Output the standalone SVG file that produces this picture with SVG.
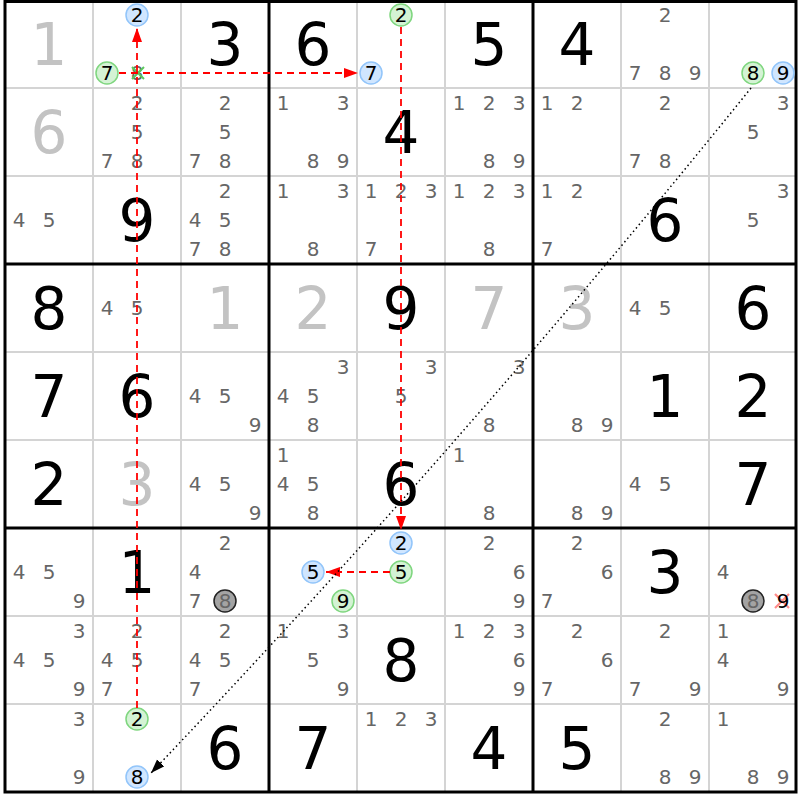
<svg xmlns="http://www.w3.org/2000/svg" width="800" height="800" viewBox="0 0 800 800">
<style>
text{font-family:"DejaVu Sans",Verdana,sans-serif;text-anchor:middle}
.g{font-size:58px;fill:#000}
.s{font-size:58px;fill:#c3c3c3}
.c{font-size:20px;fill:#666}
.k{font-size:20px;fill:#000}
.cb{fill:#d0e6ff;stroke:#92c5fa;stroke-width:1.5}
.cg{fill:#d4f3d4;stroke:#7fd67f;stroke-width:1.5}
.cx{fill:#a3a3a3;stroke:#222;stroke-width:1.5}
.thin{stroke:#d4d4d4;stroke-width:2}
.thick{stroke:#000;stroke-width:3;fill:none}
.red{stroke:#f00;stroke-width:1.8;stroke-dasharray:7 5;fill:none}
.dot{stroke:#000;stroke-width:1.5;stroke-dasharray:1.5 3;fill:none}
</style>
<defs>
<marker id="ar" markerUnits="userSpaceOnUse" markerWidth="15" markerHeight="11" refX="14" refY="5" orient="auto"><path d="M0,0 L14,5 L0,10 z" fill="#f00"/></marker>
<marker id="ab" markerUnits="userSpaceOnUse" markerWidth="15" markerHeight="11" refX="14" refY="5" orient="auto"><path d="M0,0 L14,5 L0,10 z" fill="#000"/></marker>
</defs>
<rect width="800" height="800" fill="#fff"/>
<g id="grid">
<path class="thin" d="M93,0V792M181,0V792M357,0V792M445,0V792M621,0V792M709,0V792M5,88H796M5,176H796M5,352H796M5,440H796M5,616H796M5,704H796"/>
<path class="thick" d="M269,0V792M533,0V792M5,264H796M5,528H796"/>
<rect class="thick" x="5" y="1.5" width="791" height="790.5" stroke-width="3.5"/>
</g>
<g id="r0">
<g id="c00"><text class="s" x="49" y="65">1</text></g>
<g id="c01"><circle class="cb" cx="137" cy="15" r="11"/><text class="k" x="137" y="22">2</text><circle class="cg" cx="107" cy="73" r="11"/><text class="k" x="107" y="80">7</text><text class="c" x="137" y="80">8</text><path d="M132,67L144,79M144,67L132,79" stroke="#5cc85c" stroke-width="2"/></g>
<g id="c02"><text class="g" x="225" y="65">3</text></g>
<g id="c03"><text class="g" x="313" y="65">6</text></g>
<g id="c04"><circle class="cg" cx="401" cy="15" r="11"/><text class="k" x="401" y="22">2</text><circle class="cb" cx="371" cy="73" r="11"/><text class="k" x="371" y="80">7</text></g>
<g id="c05"><text class="g" x="489" y="65">5</text></g>
<g id="c06"><text class="g" x="577" y="65">4</text></g>
<g id="c07"><text class="c" x="665" y="22">2</text><text class="c" x="635" y="80">7</text><text class="c" x="665" y="80">8</text><text class="c" x="695" y="80">9</text></g>
<g id="c08"><circle class="cg" cx="753" cy="73" r="11"/><text class="k" x="753" y="80">8</text><circle class="cb" cx="783" cy="73" r="11"/><text class="k" x="783" y="80">9</text></g>
</g>
<g id="r1">
<g id="c10"><text class="s" x="49" y="153">6</text></g>
<g id="c11"><text class="c" x="137" y="110">2</text><text class="c" x="137" y="139">5</text><text class="c" x="107" y="168">7</text><text class="c" x="137" y="168">8</text></g>
<g id="c12"><text class="c" x="225" y="110">2</text><text class="c" x="225" y="139">5</text><text class="c" x="195" y="168">7</text><text class="c" x="225" y="168">8</text></g>
<g id="c13"><text class="c" x="283" y="110">1</text><text class="c" x="343" y="110">3</text><text class="c" x="313" y="168">8</text><text class="c" x="343" y="168">9</text></g>
<g id="c14"><text class="g" x="401" y="153">4</text></g>
<g id="c15"><text class="c" x="459" y="110">1</text><text class="c" x="489" y="110">2</text><text class="c" x="519" y="110">3</text><text class="c" x="489" y="168">8</text><text class="c" x="519" y="168">9</text></g>
<g id="c16"><text class="c" x="547" y="110">1</text><text class="c" x="577" y="110">2</text></g>
<g id="c17"><text class="c" x="665" y="110">2</text><text class="c" x="635" y="168">7</text><text class="c" x="665" y="168">8</text></g>
<g id="c18"><text class="c" x="783" y="110">3</text><text class="c" x="753" y="139">5</text></g>
</g>
<g id="r2">
<g id="c20"><text class="c" x="19" y="227">4</text><text class="c" x="49" y="227">5</text></g>
<g id="c21"><text class="g" x="137" y="241">9</text></g>
<g id="c22"><text class="c" x="225" y="198">2</text><text class="c" x="195" y="227">4</text><text class="c" x="225" y="227">5</text><text class="c" x="195" y="256">7</text><text class="c" x="225" y="256">8</text></g>
<g id="c23"><text class="c" x="283" y="198">1</text><text class="c" x="343" y="198">3</text><text class="c" x="313" y="256">8</text></g>
<g id="c24"><text class="c" x="371" y="198">1</text><text class="c" x="401" y="198">2</text><text class="c" x="431" y="198">3</text><text class="c" x="371" y="256">7</text></g>
<g id="c25"><text class="c" x="459" y="198">1</text><text class="c" x="489" y="198">2</text><text class="c" x="519" y="198">3</text><text class="c" x="489" y="256">8</text></g>
<g id="c26"><text class="c" x="547" y="198">1</text><text class="c" x="577" y="198">2</text><text class="c" x="547" y="256">7</text></g>
<g id="c27"><text class="g" x="665" y="241">6</text></g>
<g id="c28"><text class="c" x="783" y="198">3</text><text class="c" x="753" y="227">5</text></g>
</g>
<g id="r3">
<g id="c30"><text class="g" x="49" y="329">8</text></g>
<g id="c31"><text class="c" x="107" y="315">4</text><text class="c" x="137" y="315">5</text></g>
<g id="c32"><text class="s" x="225" y="329">1</text></g>
<g id="c33"><text class="s" x="313" y="329">2</text></g>
<g id="c34"><text class="g" x="401" y="329">9</text></g>
<g id="c35"><text class="s" x="489" y="329">7</text></g>
<g id="c36"><text class="s" x="577" y="329">3</text></g>
<g id="c37"><text class="c" x="635" y="315">4</text><text class="c" x="665" y="315">5</text></g>
<g id="c38"><text class="g" x="753" y="329">6</text></g>
</g>
<g id="r4">
<g id="c40"><text class="g" x="49" y="417">7</text></g>
<g id="c41"><text class="g" x="137" y="417">6</text></g>
<g id="c42"><text class="c" x="195" y="403">4</text><text class="c" x="225" y="403">5</text><text class="c" x="255" y="432">9</text></g>
<g id="c43"><text class="c" x="343" y="374">3</text><text class="c" x="283" y="403">4</text><text class="c" x="313" y="403">5</text><text class="c" x="313" y="432">8</text></g>
<g id="c44"><text class="c" x="431" y="374">3</text><text class="c" x="401" y="403">5</text></g>
<g id="c45"><text class="c" x="519" y="374">3</text><text class="c" x="489" y="432">8</text></g>
<g id="c46"><text class="c" x="577" y="432">8</text><text class="c" x="607" y="432">9</text></g>
<g id="c47"><text class="g" x="665" y="417">1</text></g>
<g id="c48"><text class="g" x="753" y="417">2</text></g>
</g>
<g id="r5">
<g id="c50"><text class="g" x="49" y="505">2</text></g>
<g id="c51"><text class="s" x="137" y="505">3</text></g>
<g id="c52"><text class="c" x="195" y="491">4</text><text class="c" x="225" y="491">5</text><text class="c" x="255" y="520">9</text></g>
<g id="c53"><text class="c" x="283" y="462">1</text><text class="c" x="283" y="491">4</text><text class="c" x="313" y="491">5</text><text class="c" x="313" y="520">8</text></g>
<g id="c54"><text class="g" x="401" y="505">6</text></g>
<g id="c55"><text class="c" x="459" y="462">1</text><text class="c" x="489" y="520">8</text></g>
<g id="c56"><text class="c" x="577" y="520">8</text><text class="c" x="607" y="520">9</text></g>
<g id="c57"><text class="c" x="635" y="491">4</text><text class="c" x="665" y="491">5</text></g>
<g id="c58"><text class="g" x="753" y="505">7</text></g>
</g>
<g id="r6">
<g id="c60"><text class="c" x="19" y="579">4</text><text class="c" x="49" y="579">5</text><text class="c" x="79" y="608">9</text></g>
<g id="c61"><text class="g" x="137" y="593">1</text></g>
<g id="c62"><text class="c" x="225" y="550">2</text><text class="c" x="195" y="579">4</text><text class="c" x="195" y="608">7</text><circle class="cx" cx="225" cy="601" r="11"/><text class="c" x="225" y="608">8</text></g>
<g id="c63"><circle class="cb" cx="313" cy="572" r="11"/><text class="k" x="313" y="579">5</text><circle class="cg" cx="343" cy="601" r="11"/><text class="k" x="343" y="608">9</text></g>
<g id="c64"><circle class="cb" cx="401" cy="543" r="11"/><text class="k" x="401" y="550">2</text><circle class="cg" cx="401" cy="572" r="11"/><text class="k" x="401" y="579">5</text></g>
<g id="c65"><text class="c" x="489" y="550">2</text><text class="c" x="519" y="579">6</text><text class="c" x="519" y="608">9</text></g>
<g id="c66"><text class="c" x="577" y="550">2</text><text class="c" x="607" y="579">6</text><text class="c" x="547" y="608">7</text></g>
<g id="c67"><text class="g" x="665" y="593">3</text></g>
<g id="c68"><text class="c" x="723" y="579">4</text><circle class="cx" cx="753" cy="601" r="11"/><text class="c" x="753" y="608">8</text><path d="M775,594L789,608M789,594L775,608" stroke="#ff8a8a" stroke-width="2.2"/><text class="k" x="783" y="608">9</text></g>
</g>
<g id="r7">
<g id="c70"><text class="c" x="79" y="638">3</text><text class="c" x="19" y="667">4</text><text class="c" x="49" y="667">5</text><text class="c" x="79" y="696">9</text></g>
<g id="c71"><text class="c" x="137" y="638">2</text><text class="c" x="107" y="667">4</text><text class="c" x="137" y="667">5</text><text class="c" x="107" y="696">7</text></g>
<g id="c72"><text class="c" x="225" y="638">2</text><text class="c" x="195" y="667">4</text><text class="c" x="225" y="667">5</text><text class="c" x="195" y="696">7</text></g>
<g id="c73"><text class="c" x="283" y="638">1</text><text class="c" x="343" y="638">3</text><text class="c" x="313" y="667">5</text><text class="c" x="343" y="696">9</text></g>
<g id="c74"><text class="g" x="401" y="681">8</text></g>
<g id="c75"><text class="c" x="459" y="638">1</text><text class="c" x="489" y="638">2</text><text class="c" x="519" y="638">3</text><text class="c" x="519" y="667">6</text><text class="c" x="519" y="696">9</text></g>
<g id="c76"><text class="c" x="577" y="638">2</text><text class="c" x="607" y="667">6</text><text class="c" x="547" y="696">7</text></g>
<g id="c77"><text class="c" x="665" y="638">2</text><text class="c" x="635" y="696">7</text><text class="c" x="695" y="696">9</text></g>
<g id="c78"><text class="c" x="723" y="638">1</text><text class="c" x="723" y="667">4</text><text class="c" x="783" y="696">9</text></g>
</g>
<g id="r8">
<g id="c80"><text class="c" x="79" y="726">3</text><text class="c" x="79" y="784">9</text></g>
<g id="c81"><circle class="cg" cx="137" cy="719" r="11"/><text class="k" x="137" y="726">2</text><circle class="cb" cx="137" cy="777" r="11"/><text class="k" x="137" y="784">8</text></g>
<g id="c82"><text class="g" x="225" y="769">6</text></g>
<g id="c83"><text class="g" x="313" y="769">7</text></g>
<g id="c84"><text class="c" x="371" y="726">1</text><text class="c" x="401" y="726">2</text><text class="c" x="431" y="726">3</text></g>
<g id="c85"><text class="g" x="489" y="769">4</text></g>
<g id="c86"><text class="g" x="577" y="769">5</text></g>
<g id="c87"><text class="c" x="665" y="726">2</text><text class="c" x="665" y="784">8</text><text class="c" x="695" y="784">9</text></g>
<g id="c88"><text class="c" x="723" y="726">1</text><text class="c" x="753" y="784">8</text><text class="c" x="783" y="784">9</text></g>
</g>
<g id="connectors">
<path class="red" d="M137,708V28" marker-end="url(#ar)"/>
<path class="red" d="M119,73H358" marker-end="url(#ar)"/>
<path class="red" d="M401,27V530" marker-end="url(#ar)"/>
<path class="red" d="M390,572H326" marker-end="url(#ar)"/>
<path class="dot" d="M751,88Q465,443 151,773" marker-end="url(#ab)"/>
</g>
</svg>
